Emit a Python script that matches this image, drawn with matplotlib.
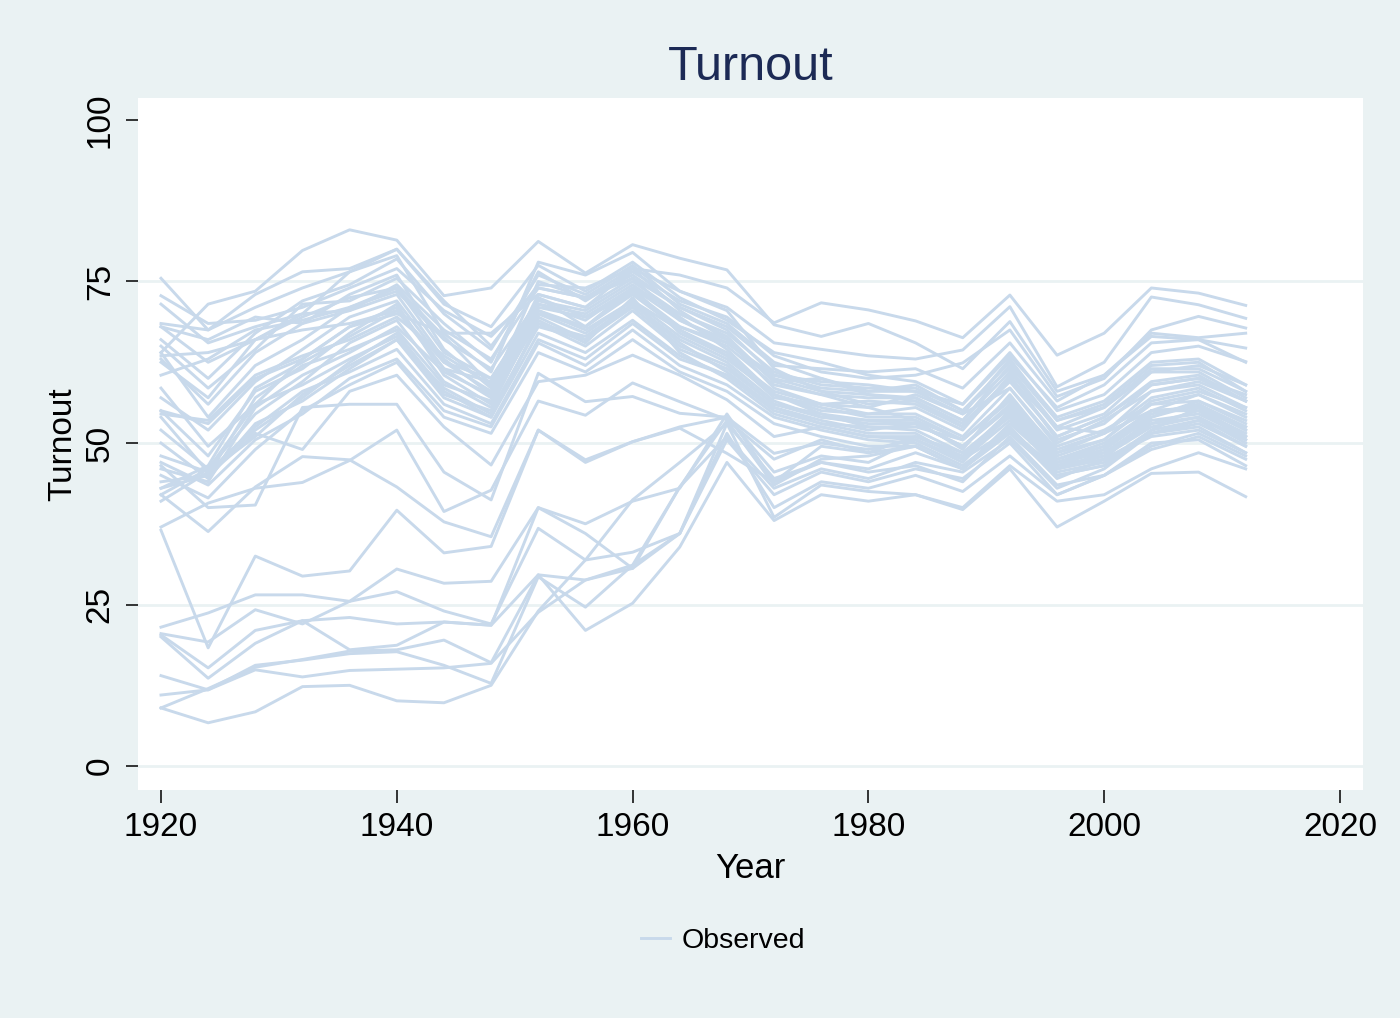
import matplotlib
matplotlib.use('Agg')
import matplotlib.pyplot as plt

plt.rcParams['font.family'] = ['Liberation Sans', 'DejaVu Sans']

years = list(range(1920, 2013, 4))

# turnout by state (one row per state)
north = [
    [64.0, 71.5, 73.5, 79.8, 83.0, 81.4, 72.8, 74.0, 81.2, 76.3, 80.7, 78.6, 76.8, 68.3, 66.5, 68.5, 65.5, 61.5, 68.8, 58.0, 60.5, 66.5, 66.0, 62.5],
    [55.0, 53.0, 60.0, 63.0, 68.0, 70.0, 67.0, 67.0, 73.0, 71.0, 77.0, 76.0, 74.0, 68.6, 71.7, 70.6, 68.9, 66.3, 72.9, 63.6, 67.0, 74.0, 73.2, 71.3],
    [75.5, 67.5, 73.0, 76.5, 77.0, 80.0, 72.0, 65.0, 74.5, 74.0, 77.0, 73.5, 70.5, 61.5, 58.0, 57.5, 56.5, 52.5, 60.0, 52.5, 51.5, 55.0, 57.5, 54.5],
    [72.8, 68.5, 69.0, 71.0, 74.0, 77.0, 70.5, 66.5, 74.0, 72.5, 75.5, 71.0, 68.0, 62.0, 61.5, 61.0, 61.5, 58.5, 65.5, 56.5, 60.5, 67.0, 66.3, 67.0],
    [71.5, 65.5, 68.0, 70.0, 76.5, 79.0, 67.0, 61.0, 78.0, 76.0, 79.5, 73.5, 71.0, 65.5, 64.5, 63.5, 63.0, 64.4, 71.1, 58.7, 62.5, 72.6, 71.4, 69.3],
    [68.5, 67.5, 71.0, 74.0, 76.5, 80.0, 71.5, 68.0, 77.5, 73.5, 78.0, 72.5, 69.0, 64.0, 62.5, 60.5, 59.5, 56.0, 64.0, 55.0, 57.5, 64.0, 65.0, 62.6],
    [68.0, 62.5, 66.0, 69.5, 72.5, 74.0, 64.0, 60.0, 71.0, 69.5, 74.0, 70.0, 66.5, 59.5, 60.0, 57.5, 57.0, 53.5, 62.0, 53.5, 56.0, 62.0, 62.5, 58.0],
    [66.0, 60.0, 67.0, 72.0, 74.5, 78.5, 70.0, 64.5, 76.0, 73.0, 77.5, 71.5, 68.5, 62.5, 60.0, 58.0, 58.0, 56.0, 63.5, 55.5, 59.0, 65.5, 66.0, 64.7],
    [65.0, 58.5, 64.5, 71.5, 72.0, 75.5, 68.5, 62.5, 76.5, 72.0, 76.5, 72.0, 69.5, 63.5, 61.0, 60.0, 60.5, 62.4, 67.5, 57.2, 60.0, 67.5, 69.6, 67.8],
    [64.0, 54.0, 62.0, 66.0, 71.0, 74.0, 66.5, 59.0, 72.5, 69.5, 73.0, 68.0, 65.5, 60.5, 58.5, 58.0, 59.0, 55.0, 61.5, 52.5, 55.5, 61.0, 61.0, 57.0],
    [63.0, 56.0, 64.0, 68.5, 73.0, 76.0, 64.5, 58.5, 75.0, 72.5, 77.0, 70.5, 66.0, 58.5, 56.0, 56.5, 56.0, 52.5, 59.5, 51.0, 54.0, 59.5, 60.5, 56.5],
    [62.5, 57.0, 66.0, 70.0, 70.5, 73.0, 63.0, 57.5, 70.5, 67.5, 72.0, 67.5, 63.5, 58.0, 56.0, 55.5, 57.5, 54.5, 58.5, 50.0, 53.5, 58.0, 59.0, 55.5],
    [58.5, 49.5, 56.0, 63.0, 68.0, 71.0, 61.5, 57.0, 70.0, 68.0, 73.5, 68.0, 65.0, 59.0, 57.5, 55.5, 53.5, 50.5, 57.0, 48.5, 51.5, 57.0, 58.5, 55.0],
    [57.0, 52.0, 59.5, 64.5, 69.5, 72.0, 62.5, 60.0, 71.5, 70.0, 74.5, 69.5, 64.5, 57.5, 55.0, 54.5, 54.5, 51.0, 58.5, 49.5, 52.0, 56.0, 57.5, 54.0],
    [55.0, 48.0, 58.0, 61.5, 67.0, 71.5, 60.5, 56.0, 69.5, 66.0, 71.5, 66.0, 62.5, 56.5, 54.0, 53.0, 53.0, 49.5, 55.5, 47.5, 50.0, 55.0, 55.5, 52.5],
    [54.0, 45.5, 51.0, 57.5, 62.0, 66.0, 58.5, 54.5, 68.5, 65.0, 70.5, 64.5, 61.5, 56.0, 54.5, 52.5, 52.0, 48.5, 54.5, 47.0, 49.0, 54.0, 56.5, 53.0],
    [52.0, 46.0, 54.5, 59.5, 65.5, 69.0, 59.5, 55.5, 70.0, 67.0, 72.0, 66.5, 63.0, 57.5, 55.5, 54.0, 54.0, 50.5, 56.5, 48.0, 50.5, 56.5, 58.0, 55.5],
    [50.0, 44.5, 53.0, 56.5, 61.5, 66.0, 57.0, 54.0, 67.0, 64.0, 69.0, 63.5, 60.5, 55.0, 53.0, 51.5, 51.5, 47.5, 53.5, 46.0, 48.0, 53.0, 54.0, 50.5],
    [47.0, 43.5, 50.5, 54.5, 60.0, 63.0, 55.0, 52.5, 65.5, 62.0, 67.5, 62.0, 59.0, 54.0, 52.0, 50.5, 50.0, 46.5, 52.0, 45.5, 47.0, 52.0, 53.5, 49.5],
    [46.0, 44.0, 55.5, 60.5, 64.0, 68.0, 61.0, 57.5, 71.5, 69.0, 74.0, 67.0, 63.5, 57.0, 56.0, 54.5, 55.5, 52.0, 60.5, 50.5, 53.0, 59.0, 60.0, 57.5],
    [45.0, 41.5, 49.0, 55.0, 59.0, 62.5, 54.0, 51.5, 64.0, 61.0, 66.0, 61.0, 58.0, 53.0, 51.0, 49.5, 49.5, 46.0, 51.5, 45.0, 46.5, 51.5, 52.5, 48.5],
    [44.0, 45.0, 57.0, 62.0, 64.5, 67.5, 59.0, 56.5, 69.0, 65.5, 72.5, 64.0, 60.0, 54.5, 52.5, 51.0, 50.5, 47.0, 54.5, 46.5, 49.0, 54.5, 56.0, 52.0],
    [43.0, 46.5, 58.5, 62.5, 66.5, 70.5, 62.5, 58.0, 73.0, 71.0, 75.5, 69.0, 66.0, 59.5, 57.5, 57.0, 57.0, 53.5, 61.0, 52.0, 54.5, 61.0, 62.0, 59.0],
    [42.0, 46.0, 56.0, 59.0, 63.0, 66.5, 57.5, 55.0, 68.0, 66.0, 71.0, 65.0, 62.0, 56.0, 54.0, 53.5, 53.5, 49.0, 57.5, 48.5, 50.5, 56.0, 56.5, 53.5],
    [41.0, 45.5, 52.5, 58.0, 61.0, 64.5, 56.0, 53.0, 66.0, 63.0, 68.5, 63.0, 60.5, 55.5, 53.5, 52.0, 53.0, 49.5, 56.0, 47.5, 49.5, 55.0, 55.0, 51.5],
    [60.5, 63.0, 67.5, 69.0, 71.0, 73.5, 66.0, 61.5, 72.0, 70.5, 75.0, 70.0, 67.0, 61.0, 59.0, 58.5, 58.5, 55.0, 62.5, 54.0, 56.5, 62.5, 63.0, 59.0],
    [68.0, 66.0, 69.5, 68.5, 70.5, 74.5, 67.5, 63.0, 74.0, 72.5, 76.0, 71.0, 67.5, 60.5, 59.5, 59.0, 58.0, 54.5, 63.0, 53.5, 55.5, 61.5, 61.5, 58.0],
    [63.5, 64.0, 66.0, 67.5, 68.5, 70.5, 61.5, 59.5, 72.5, 68.0, 73.0, 67.5, 64.0, 57.5, 54.5, 53.5, 53.0, 49.5, 55.5, 47.0, 49.5, 55.0, 55.5, 52.0],
    [48.0, 45.5, 52.0, 57.0, 62.5, 67.0, 58.0, 54.0, 68.5, 66.5, 71.5, 65.5, 61.0, 55.5, 53.0, 52.5, 52.5, 50.5, 57.0, 49.0, 51.5, 58.0, 59.5, 56.5],
    [54.5, 53.5, 60.5, 63.5, 66.0, 69.5, 63.5, 59.0, 70.5, 68.0, 74.0, 69.0, 65.5, 60.0, 58.0, 56.0, 56.5, 53.0, 60.0, 51.0, 54.0, 59.0, 60.0, 56.5],
]

border = [
    [37.0, 40.7, 43.0, 43.9, 47.3, 52.0, 39.4, 42.7, 56.5, 54.3, 59.3, 56.4, 53.6, 47.5, 50.5, 48.5, 49.5, 46.0, 53.0, 46.5, 48.0, 52.5, 54.0, 50.0],
    [42.0, 36.3, 43.2, 47.9, 47.4, 43.2, 37.8, 35.5, 52.0, 47.4, 50.2, 52.3, 48.4, 44.0, 47.0, 45.5, 46.5, 44.0, 51.0, 43.5, 45.0, 50.0, 50.5, 46.5],
    [46.5, 40.0, 40.4, 55.5, 56.0, 56.0, 45.5, 41.2, 60.8, 56.4, 57.2, 54.6, 54.0, 48.4, 50.0, 49.0, 50.5, 47.5, 55.0, 46.0, 47.5, 51.5, 53.5, 51.0],
    [43.0, 45.0, 51.5, 49.0, 58.0, 60.5, 52.5, 46.6, 59.5, 60.5, 63.6, 60.5, 56.7, 51.0, 52.5, 51.0, 51.0, 48.0, 55.0, 47.0, 48.5, 53.5, 54.5, 51.0],
]

south = [
    [36.5, 18.3, 32.5, 29.4, 30.2, 39.6, 33.0, 34.0, 52.0, 47.0, 50.2, 52.5, 54.0, 45.5, 48.0, 47.0, 50.5, 47.5, 52.0, 44.5, 47.5, 51.0, 52.0, 48.5],
    [21.5, 23.7, 26.5, 26.5, 25.5, 30.5, 28.3, 28.6, 40.0, 37.5, 41.0, 43.0, 54.5, 44.0, 49.5, 48.5, 51.0, 48.5, 54.0, 46.0, 48.5, 53.0, 55.0, 50.5],
    [20.5, 19.2, 24.2, 22.0, 25.5, 27.0, 24.0, 22.0, 36.8, 31.9, 41.2, 47.0, 53.0, 44.5, 47.0, 46.0, 48.5, 46.0, 52.5, 45.0, 46.5, 52.0, 55.5, 51.0],
    [20.3, 15.2, 21.0, 22.5, 23.0, 22.0, 22.3, 21.8, 29.6, 28.8, 30.6, 43.2, 53.5, 43.5, 47.5, 48.0, 49.5, 46.0, 52.0, 46.0, 47.5, 54.0, 56.0, 52.5],
    [14.0, 11.8, 15.6, 16.4, 17.4, 17.7, 15.6, 12.8, 29.3, 24.6, 31.1, 36.0, 50.5, 42.0, 45.5, 44.0, 46.0, 44.5, 50.0, 42.0, 45.0, 49.5, 51.5, 48.0],
    [11.0, 11.8, 14.9, 13.8, 14.8, 15.0, 15.2, 15.9, 23.8, 28.8, 31.1, 43.2, 51.0, 43.0, 46.0, 44.5, 47.0, 45.5, 50.5, 43.0, 46.0, 51.5, 53.0, 49.5],
    [20.0, 13.6, 19.0, 22.5, 18.0, 18.7, 22.3, 21.8, 40.0, 36.0, 30.6, 36.0, 51.5, 40.0, 44.0, 43.0, 45.0, 42.5, 48.0, 42.0, 45.0, 49.0, 51.0, 47.5],
    [9.0, 12.0, 15.3, 16.5, 17.8, 18.0, 19.5, 16.0, 29.6, 21.0, 25.2, 33.9, 47.0, 38.0, 42.0, 41.0, 42.0, 40.0, 46.5, 41.0, 42.0, 46.0, 48.5, 46.0],
    [9.0, 6.7, 8.4, 12.3, 12.5, 10.1, 9.8, 12.5, 24.0, 31.9, 33.1, 36.0, 53.0, 38.5, 43.5, 42.5, 42.0, 39.7, 46.0, 37.0, 41.0, 45.3, 45.5, 41.7],
]

bg = '#eaf2f3'
line_col = '#c8d9eb'

fig = plt.figure(figsize=(14, 10.18), dpi=100, facecolor=bg)
ax = fig.add_axes([138 / 1400, 1 - 790 / 1018, 1225 / 1400, 692 / 1018])
ax.set_facecolor('white')

states = north + border + south
for i, s in enumerate(states):
    ax.plot(years, s, color=line_col, lw=2.1,
            label='Observed' if i == 0 else '_nolegend_', zorder=2)

ax.set_xlim(1918.05, 2021.95)
ax.set_ylim(-3.7, 103.4)
ax.set_xticks([1920, 1940, 1960, 1980, 2000, 2020])
ax.set_yticks([0, 25, 50, 75, 100])
for g in [0, 25, 50, 75]:
    ax.axhline(g, color=bg, lw=2, zorder=1)

for sp in ax.spines.values():
    sp.set_visible(False)
ax.tick_params(axis='both', length=9, width=1.1, color='black',
               labelsize=24, pad=7)
for lab in ax.get_yticklabels():
    lab.set_rotation(90)
    lab.set_va('center')
ax.tick_params(axis='y', pad=7)

ax.set_xlabel('Year', fontsize=25, labelpad=6)
ax.set_ylabel('Turnout', fontsize=24, labelpad=5)

fig.text(750.5 / 1400, 1 - 67 / 1018, 'Turnout', fontsize=35,
         color='#1c2a55', ha='center', va='center')

fig.legend(loc='center', bbox_to_anchor=(723 / 1400, 1 - 941 / 1018),
           frameon=False, fontsize=20.5, handlelength=1.0, handletextpad=0.4)

fig.savefig('out.png', dpi=100, facecolor=bg)
